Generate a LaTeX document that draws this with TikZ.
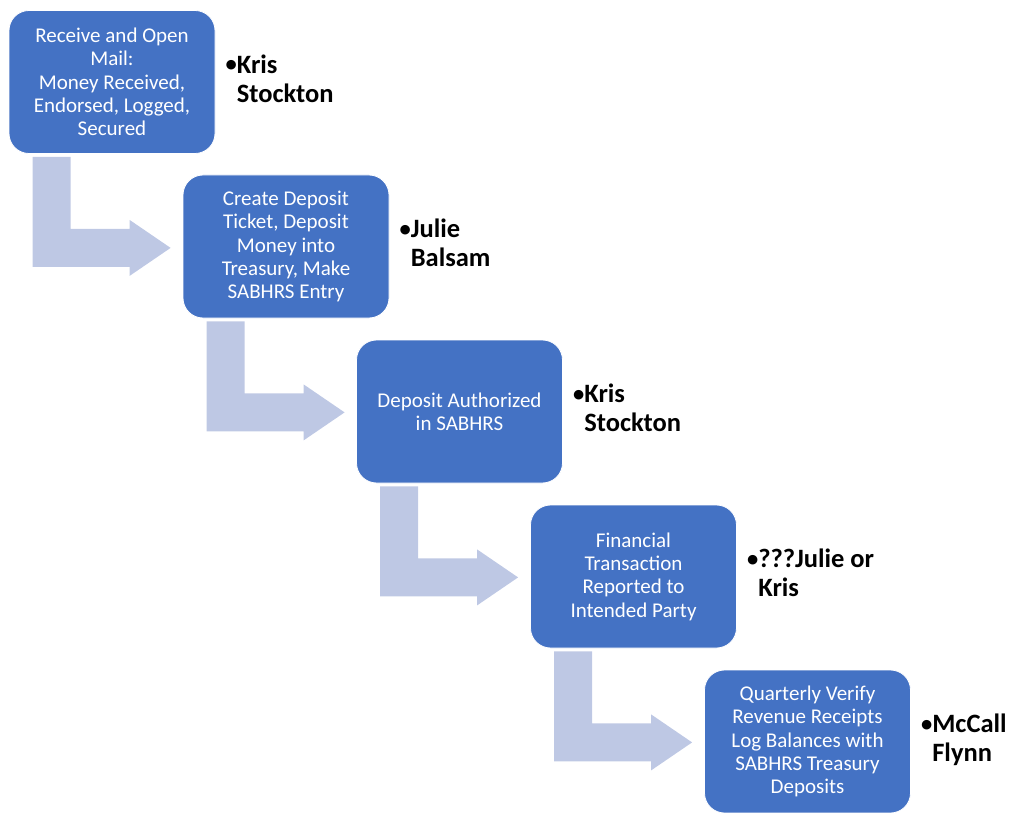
\documentclass[tikz,border=0pt]{standalone}
\usepackage{fontspec}
\setmainfont{Carlito}
\usetikzlibrary{calc}
\definecolor{boxblue}{RGB}{68,114,196}
\definecolor{arrowblue}{RGB}{190,200,228}
\tikzset{
  procbox/.style={rectangle, rounded corners=20pt, fill=boxblue, draw=white, line width=0.8pt,
    minimum width=206pt, minimum height=143pt, inner sep=0pt, text=white, align=center,
    font=\fontsize{21}{23.3}\selectfont},
  owner/.style={anchor=west, inner sep=0pt, font=\fontsize{26.5}{29}\selectfont\bfseries},
  bentarrow/.style={fill=arrowblue, draw=none}
}
\newcommand{\bentarrow}[1]{%
  \fill[bentarrow]
    ($(#1.south west)+(24,3)$) -- ($(#1.south west)+(62,3)$) --
    ($(#1.south west)+(62,75)$) -- ($(#1.south west)+(121,75)$) --
    ($(#1.south west)+(121,66)$) -- ($(#1.south west)+(162,94)$) --
    ($(#1.south west)+(121,122)$) -- ($(#1.south west)+(121,113)$) --
    ($(#1.south west)+(24,113)$) -- cycle;}
\newcommand{\ownerlabel}[3]{%
  \node[owner] (#1) at ($(#2.east)+(10,0)$) {\begin{tabular}{@{}l@{}l@{}}\raisebox{0.05em}{\scalebox{0.85}{•}}&#3\end{tabular}};}
\begin{document}
\begin{tikzpicture}[x=1pt,y=-1pt]
\useasboundingbox (0,0) rectangle (1010,813);
\node[procbox] (b1) at (112,82) {Receive and Open\\Mail:\\Money Received,\\Endorsed, Logged,\\Secured};
\node[procbox] (b2) at (286,246.5) {Create Deposit\\Ticket, Deposit\\Money into\\Treasury, Make\\SABHRS Entry};
\node[procbox] (b3) at (459.5,411.5) {Deposit Authorized\\in SABHRS};
\node[procbox] (b4) at (633.5,576.5) {Financial\\Transaction\\Reported to\\Intended Party};
\node[procbox] (b5) at (807.5,741.5) {Quarterly Verify\\Revenue Receipts\\Log Balances with\\SABHRS Treasury\\Deposits};
\bentarrow{b1}
\bentarrow{b2}
\bentarrow{b3}
\bentarrow{b4}
\ownerlabel{l1}{b1}{Kris\\&Stockton}
\ownerlabel{l2}{b2}{Julie\\&Balsam}
\ownerlabel{l3}{b3}{Kris\\&Stockton}
\ownerlabel{l4}{b4}{???Julie or\\&Kris}
\ownerlabel{l5}{b5}{McCall\\&Flynn}
\end{tikzpicture}
\end{document}
